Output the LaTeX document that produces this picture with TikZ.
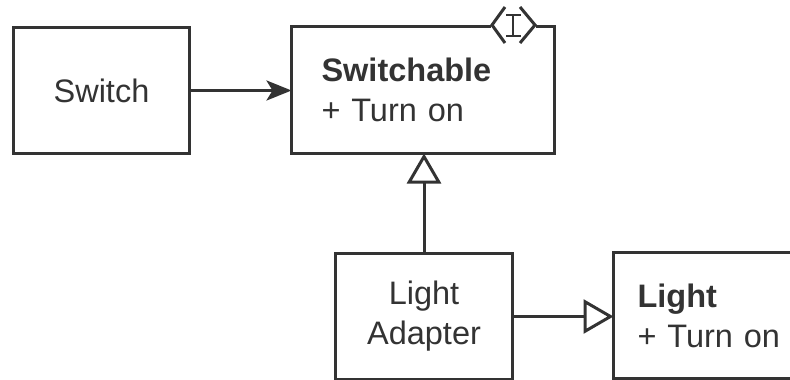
\documentclass[tikz,border=0pt]{standalone}
\usepackage{fontspec}
\setmainfont{Liberation Sans}
\usepackage{xcolor}
\usepackage{tikz}
\usetikzlibrary{arrows.meta, positioning}
\definecolor{umlgray}{RGB}{51, 51, 51}

\begin{document}
\begin{tikzpicture}[x=0.5pt, y=-0.5pt, line width=1.5pt, umlgray,
    classbox/.style={draw, rectangle, anchor=north west, inner sep=0pt,
        font=\fontsize{16.25}{20}\selectfont, text=umlgray},
    realize/.style={-{Triangle[open, length=15pt, width=17pt, fill=white]}, shorten >=-0.75pt},
    assoc/.style={-{Stealth[length=12.5pt, width=10pt, inset=3pt]}, shorten >=-0.75pt}]
    \useasboundingbox (0,0) rectangle (790,379);

    % Draw class boxes
    \node[classbox, minimum width=88pt, minimum height=63pt, align=center] (switch) at (12,26) {Switch};
    \node[classbox, minimum width=131.5pt, minimum height=63.5pt, text width=101.5pt,
        inner xsep=15pt, align=left] (switchable) at (290,25) {\textbf{Switchable}\\+ Turn on};
    \node[classbox, minimum width=88.5pt, minimum height=63pt, align=center] (adapter) at (334,252) {Light\\Adapter};
    \node[classbox, minimum width=95pt, minimum height=63pt, text width=75pt,
        inner xsep=12pt, align=left] (light) at (612,251) {\textbf{Light}\\+ Turn on};

    % Draw interface marker on the top edge
    \fill[white] (491,17) rectangle (536,33);
    \draw[line join=miter] (505,7) -- (492,25) -- (505,43);
    \draw[line join=miter] (520,7) -- (535,25) -- (520,43);
    \draw[line width=1pt] (513,15) -- (513,36);
    \draw[line width=1pt] (506,15) -- (521,15);
    \draw[line width=1pt] (506,36) -- (521,36);

    % Draw connectors
    \draw[assoc] (switch) -- (switch -| switchable.west);
    \draw[realize] (adapter.north) -- (adapter.north |- switchable.south);
    \draw[realize] (adapter) -- (adapter -| light.west);
\end{tikzpicture}
\end{document}
